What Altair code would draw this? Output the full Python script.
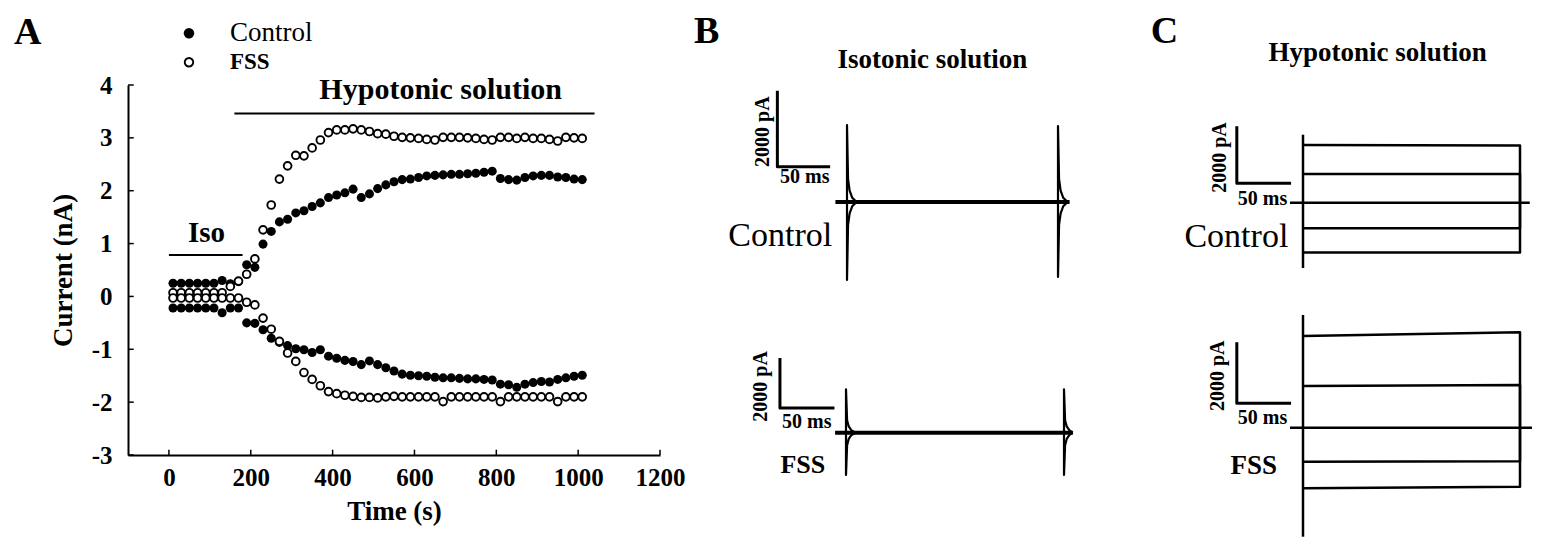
import altair as alt
import pandas as pd

FONT = "Liberation Serif"

# ---------------- Panel A data (time in s, current in nA) ----------------
time_s = [10, 30, 50, 70, 90, 110, 130, 150, 170, 190,
          210, 230, 250, 270, 290, 310, 330, 350, 370, 390,
          410, 430, 450, 470, 490, 510, 530, 550, 570, 590,
          610, 630, 650, 670, 690, 710, 730, 750, 770, 790,
          810, 830, 850, 870, 890, 910, 930, 950, 970, 990, 1010]
control_outward = [0.25, 0.25, 0.25, 0.25, 0.25, 0.25, 0.30, 0.24, 0.28, 0.60,
                   0.55, 0.99, 1.23, 1.41, 1.46, 1.58, 1.62, 1.70, 1.77, 1.87,
                   1.92, 1.96, 2.03, 1.87, 1.94, 2.04, 2.11, 2.17, 2.21, 2.22,
                   2.25, 2.28, 2.29, 2.30, 2.31, 2.31, 2.32, 2.33, 2.35, 2.37,
                   2.23, 2.21, 2.20, 2.25, 2.28, 2.29, 2.29, 2.26, 2.25, 2.22, 2.21]
control_inward = [-0.22, -0.22, -0.22, -0.22, -0.22, -0.22, -0.31, -0.22, -0.22, -0.50,
                  -0.51, -0.63, -0.79, -0.87, -0.93, -0.99, -1.01, -1.06, -1.01, -1.13,
                  -1.17, -1.21, -1.23, -1.29, -1.22, -1.29, -1.35, -1.41, -1.47, -1.49,
                  -1.50, -1.51, -1.53, -1.54, -1.54, -1.55, -1.56, -1.56, -1.57, -1.58,
                  -1.66, -1.67, -1.72, -1.66, -1.63, -1.61, -1.62, -1.57, -1.54, -1.51, -1.49]
fss_outward = [0.07, 0.07, 0.07, 0.07, 0.07, 0.07, 0.07, 0.19, 0.29, 0.42,
               0.71, 1.26, 1.73, 2.22, 2.47, 2.67, 2.66, 2.81, 2.96, 3.10,
               3.15, 3.15, 3.17, 3.15, 3.12, 3.08, 3.07, 3.03, 3.01, 3.00,
               2.99, 2.97, 2.96, 3.01, 3.01, 3.01, 3.00, 2.99, 2.97, 2.96,
               3.01, 3.01, 2.99, 3.01, 2.99, 2.99, 2.97, 2.94, 3.01, 3.00, 2.99]
fss_inward = [-0.03, -0.03, -0.03, -0.03, -0.03, -0.03, -0.03, -0.03, -0.03, -0.11,
              -0.16, -0.41, -0.62, -0.85, -1.07, -1.23, -1.44, -1.57, -1.69, -1.80,
              -1.84, -1.87, -1.89, -1.91, -1.91, -1.92, -1.90, -1.89, -1.90, -1.90,
              -1.90, -1.90, -1.90, -1.99, -1.90, -1.90, -1.90, -1.90, -1.90, -1.90,
              -1.99, -1.90, -1.90, -1.90, -1.90, -1.90, -1.90, -1.99, -1.90, -1.90, -1.90]
x_ticks = [0, 200, 400, 600, 800, 1000, 1200]
y_ticks = [-3, -2, -1, 0, 1, 2, 3, 4]
iso_period = [0, 180]          # s
hypo_period = [160, 1040]      # s

# ---------------- Panel B traces: isotonic (time ms, current pA) ----------------
iso_ctrl_baseline_t = [-11, 211]
iso_ctrl_baseline_i = [0, 0]
iso_ctrl_on_t = [0, 0, 1, 2.5, 5, 9]
iso_ctrl_on_out = [0, 2026, 600, 300, 110, 0]
iso_ctrl_on_in = [0, -2050, -600, -300, -110, 0]
iso_ctrl_off_t = [200, 200, 201, 202.5, 205, 209]
iso_ctrl_off_out = [0, 2000, 600, 300, 110, 0]
iso_ctrl_off_in = [0, -1973, -600, -300, -110, 0]

iso_fss_baseline_t = [-10, 208]
iso_fss_baseline_i = [0, 0]
iso_fss_on_t = [0, 0, 1, 2.5, 5, 9]
iso_fss_on_out = [0, 1736, 500, 250, 90, 0]
iso_fss_on_in = [0, -1692, -500, -250, -90, 0]
iso_fss_off_t = [200, 200, 201, 202.5, 205, 208]
iso_fss_off_out = [0, 1736, 500, 250, 90, 0]
iso_fss_off_in = [0, -1692, -500, -250, -90, 0]

# ---------------- Panel C traces: hypotonic (time ms, current pA) ----------------
hypo_ctrl_baseline_t = [-12, 209]
hypo_ctrl_transient = [-2291, 2386]
hypo_ctrl_steps_start = [2024, 1005, -898, -1744]
hypo_ctrl_steps_end = [2010, 1005, -898, -1744]

hypo_fss_baseline_t = [-12, 211]
hypo_fss_transient = [-3574, 3695]
hypo_fss_steps_start = [3007, 1367, -1115, -1988]
hypo_fss_steps_end = [3128, 1400, -1100, -1934]

pulse_ms = [0, 200]
scalebar_ms = 50
scalebar_pA = 2000

# ---------------- layout (scale domains -> pixel ranges) ----------------
W, H = 532, 370
DOM = {"A": ([-100, 1200], [-3, 4]),
       "B1": ([0, 200], [0, 2000]), "B2": ([0, 200], [0, 2000]),
       "C1": ([0, 200], [0, 2000]), "C2": ([0, 200], [0, 2000])}
RNG = {"A": ([0, W], [H, 0]),
       "B1": ([719, 930], [117, 41]), "B2": ([718, 936], [347.7, 297.7]),
       "C1": ([1175, 1392], [117.7, 60.7]), "C2": ([1175, 1392], [342.7, 281.7])}


def sc(p, ch):
    i = 0 if ch == "x" else 1
    return alt.Scale(domain=DOM[p][i], range=RNG[p][i], nice=False, zero=False)


def XD(p, v):
    return alt.XDatum(v, type="quantitative", scale=sc(p, "x"), axis=None)


def YD(p, v):
    return alt.YDatum(v, type="quantitative", scale=sc(p, "y"), axis=None)


def text(p, x, y, s, size, bold=True, align="center", angle=0):
    df = pd.DataFrame({"label": [s]})
    return alt.Chart(df).mark_text(
        font=FONT, fontSize=size, fontWeight="bold" if bold else "normal",
        align=align, baseline="middle", angle=angle, color="black"
    ).encode(x=XD(p, x), y=YD(p, y), text="label:N")


def lines(p, df, width):
    return alt.Chart(df).mark_line(color="black", strokeWidth=width, strokeJoin="round").encode(
        x=alt.X("t:Q", scale=sc(p, "x"), axis=None),
        y=alt.Y("i:Q", scale=sc(p, "y"), axis=None),
        detail="seg:N", order="k:Q")


def seg_df(segments):
    rows = []
    for name, ts, vs in segments:
        for k, (t, v) in enumerate(zip(ts, vs)):
            rows.append({"seg": name, "t": t, "i": v, "k": k})
    return pd.DataFrame(rows)


def scalebar(p, x0, y0):
    df = seg_df([("bar", [x0, x0, x0 + scalebar_ms], [y0 + scalebar_pA, y0, y0])])
    return lines(p, df, 3)


layers = []

# ---------------- Panel A ----------------
common_axis = dict(ticks=False, tickSize=0, grid=False, labelFont=FONT, labelFontSize=25,
                   labelFontWeight="bold", labelColor="black", labelFlush=False,
                   labelOverlap=False, domainColor="black", domainWidth=2,
                   labelExpr="'' + datum.value",
                   titleFont=FONT, titleFontSize=27, titleFontWeight="bold", titleColor="black")
axis_x = alt.Axis(values=x_ticks, labelPadding=10, title="Time (s)", titlePadding=8, **common_axis)
axis_y = alt.Axis(values=y_ticks, labelPadding=16, title="Current (nA)", titlePadding=14, **common_axis)

ctrl_df = pd.DataFrame({"t": time_s + time_s, "v": control_outward + control_inward})
fss_df = pd.DataFrame({"t": time_s + time_s, "v": fss_outward + fss_inward})

layers.append(alt.Chart(ctrl_df).mark_point(shape="circle", filled=True, size=82, color="black", opacity=1).encode(
    x=alt.X("t:Q", scale=sc("A", "x"), axis=axis_x),
    y=alt.Y("v:Q", scale=sc("A", "y"), axis=axis_y)))
layers.append(alt.Chart(fss_df).mark_point(shape="circle", filled=False, fill="white", size=60,
                                           strokeWidth=1.9, color="black", opacity=1).encode(
    x=alt.X("t:Q", scale=sc("A", "x"), axis=None),
    y=alt.Y("v:Q", scale=sc("A", "y"), axis=None)))

# inward ticks
xt_df = pd.DataFrame({"v": x_ticks})
layers.append(alt.Chart(xt_df).mark_rule(color="black", strokeWidth=1.5).encode(
    x=alt.X("v:Q", scale=sc("A", "x"), axis=None), y=YD("A", -3), y2=alt.Y2Datum(-2.9)))
yt_df = pd.DataFrame({"v": y_ticks})
layers.append(alt.Chart(yt_df).mark_rule(color="black", strokeWidth=1.5).encode(
    y=alt.Y("v:Q", scale=sc("A", "y"), axis=None), x=XD("A", -100), x2=alt.X2Datum(-86)))

# solution bars
per_df = pd.DataFrame({"label": ["Iso"]})
layers.append(alt.Chart(per_df).mark_rule(color="black", strokeWidth=2).encode(
    x=XD("A", iso_period[0]), x2=alt.X2Datum(iso_period[1]), y=YD("A", 0.785)))
layers.append(alt.Chart(per_df).mark_rule(color="black", strokeWidth=2).encode(
    x=XD("A", hypo_period[0]), x2=alt.X2Datum(hypo_period[1]), y=YD("A", 3.46)))
layers.append(text("A", 92, 1.2, "Iso", 29))
layers.append(text("A", 664, 3.9, "Hypotonic solution", 30))

# legend
leg_df = pd.DataFrame({"label": ["Control"]})
layers.append(alt.Chart(leg_df).mark_point(shape="circle", filled=True, size=110, color="black", opacity=1).encode(
    x=XD("A", 49), y=YD("A", 4.98)))
layers.append(alt.Chart(leg_df).mark_point(shape="circle", filled=False, fill="white", size=72, strokeWidth=1.9,
                                           color="black", opacity=1).encode(x=XD("A", 49), y=YD("A", 4.43)))
layers.append(text("A", 149, 4.98, "Control", 27, bold=False, align="left"))
layers.append(text("A", 149, 4.43, "FSS", 23, align="left"))
layers.append(text("A", -345, 4.98, "A", 38))

# ---------------- Panel B ----------------
b1 = seg_df([("on_out", iso_ctrl_on_t, iso_ctrl_on_out), ("on_in", iso_ctrl_on_t, iso_ctrl_on_in),
             ("off_out", iso_ctrl_off_t, iso_ctrl_off_out), ("off_in", iso_ctrl_off_t, iso_ctrl_off_in)])
layers.append(lines("B1", seg_df([("base", iso_ctrl_baseline_t, iso_ctrl_baseline_i)]), 4))
layers.append(lines("B1", b1, 2.2))
layers.append(scalebar("B1", -66, 929))
layers.append(text("B1", -80, 1850, "2000 pA", 20, angle=270))
layers.append(text("B1", -40, 658, "50 ms", 20))
layers.append(text("B1", -14, -895, "Control", 34, bold=False, align="right"))
layers.append(text("B1", 81, 3737, "Isotonic solution", 27))
layers.append(text("B1", -133, 4461, "B", 38))

b2 = seg_df([("on_out", iso_fss_on_t, iso_fss_on_out), ("on_in", iso_fss_on_t, iso_fss_on_in),
             ("off_out", iso_fss_off_t, iso_fss_off_out), ("off_in", iso_fss_off_t, iso_fss_off_in)])
layers.append(lines("B2", seg_df([("base", iso_fss_baseline_t, iso_fss_baseline_i)]), 4))
layers.append(lines("B2", b2, 2.2))
layers.append(scalebar("B2", -60.6, 990))
layers.append(text("B2", -78, 1852, "2000 pA", 20, angle=270))
layers.append(text("B2", -36, 420, "50 ms", 20))
layers.append(text("B2", -19, -1280, "FSS", 26, align="right"))

# ---------------- Panel C ----------------
def step_segments(base_t, transient, starts, ends):
    segs = [("base", base_t, [0, 0]), ("transient", [0, 0], transient)]
    for n, (a, b) in enumerate(zip(starts, ends)):
        segs.append((f"step{n}", [pulse_ms[0], pulse_ms[1], pulse_ms[1]], [a, b, 0]))
    return seg_df(segs)


layers.append(lines("C1", step_segments(hypo_ctrl_baseline_t, hypo_ctrl_transient,
                                        hypo_ctrl_steps_start, hypo_ctrl_steps_end), 2.5))
layers.append(scalebar("C1", -61, 681))
layers.append(text("C1", -76.5, 1586, "2000 pA", 20, angle=270))
layers.append(text("C1", -37.3, 130, "50 ms", 20))
layers.append(text("C1", -13.5, -1221, "Control", 34, bold=False, align="right"))
layers.append(text("C1", 68.7, 5253, "Hypotonic solution", 27))
layers.append(text("C1", -127.6, 5972, "C", 38))

layers.append(lines("C2", step_segments(hypo_fss_baseline_t, hypo_fss_transient,
                                        hypo_fss_steps_start, hypo_fss_steps_end), 2.5))
layers.append(scalebar("C2", -61, 800))
layers.append(text("C2", -78, 1702, "2000 pA", 20, angle=270))
layers.append(text("C2", -37.3, 308, "50 ms", 20))
layers.append(text("C2", -24, -1256, "FSS", 27, align="right"))

chart = alt.layer(*layers).resolve_scale(x="independent", y="independent").properties(
    width=W, height=H,
    padding={"left": 120, "top": 77, "right": 1543 - 120 - W, "bottom": 543 - 77 - H},
    autosize=alt.AutoSizeParams(type="none"),
    background="white",
).configure_view(strokeWidth=0)

chart.save("out.html", embed_options={"renderer": "svg", "actions": False})
